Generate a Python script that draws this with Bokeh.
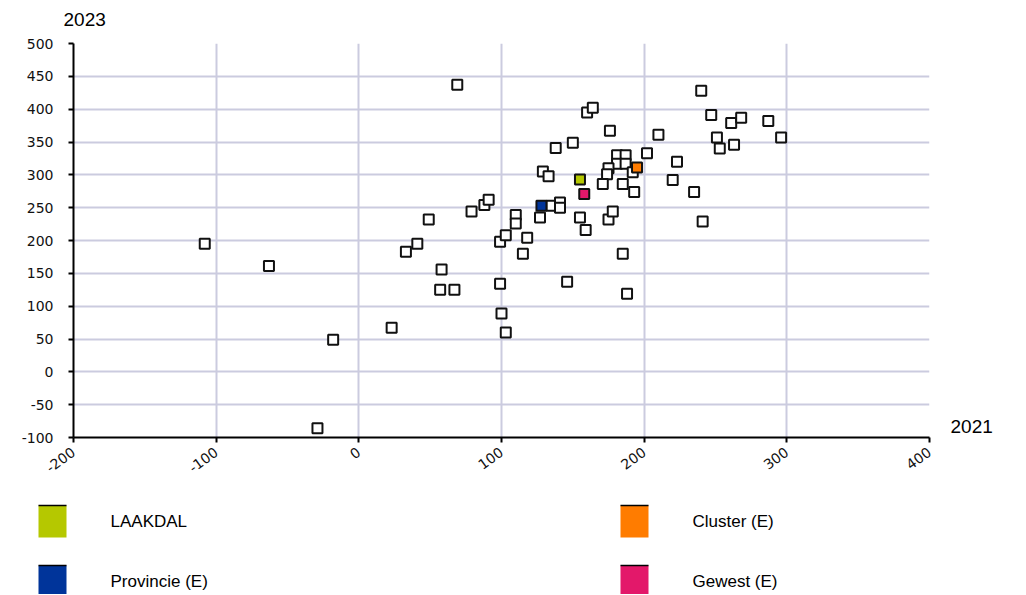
import math
from bokeh.plotting import figure
from bokeh.layouts import column, row
from bokeh.models import Range1d, FixedTicker, ColumnDataSource, CustomJSTickFormatter
from bokeh.core.properties import value
from bokeh.embed import file_html
from bokeh.resources import INLINE

# ---- data: x = 2021, y = 2023 ----
x_2021 = [-108, -63, -18, -29, 23, 69, 33, 41, 49, 58, 57, 67, 79, 88, 91, 99, 103, 99, 100, 103,
          110, 110, 118, 115, 127, 135, 141, 141, 155, 159, 175, 178, 185, 188, 146, 160, 164, 176,
          138, 150, 129, 133, 210, 202, 223, 220, 235, 181, 187, 181, 187, 175, 174, 171, 185, 192,
          193, 240, 247, 261, 268, 287, 296, 251, 253, 263, 241]
y_2023 = [195, 161, 49, -86, 67, 437, 183, 195, 232, 156, 125, 125, 244, 254, 262, 198, 208, 134, 89, 60,
          239, 226, 204, 180, 235, 253, 258, 250, 235, 216, 232, 244, 180, 119, 137, 395, 402, 367,
          341, 349, 305, 298, 361, 333, 320, 292, 274, 330, 330, 317, 317, 310, 301, 286, 286, 304,
          274, 428, 391, 379, 387, 382, 357, 357, 340, 346, 229]

hl_names = ["LAAKDAL", "Provincie (E)", "Cluster (E)", "Gewest (E)"]
hl_x = [155, 128, 195, 158]
hl_y = [293, 253, 311, 271]
hl_colors = ["#b5c800", "#00349a", "#ff7c00", "#e3186a"]

x_ticks = [-200, -100, 0, 100, 200, 300, 400]
y_ticks = [-100, -50, 0, 50, 100, 150, 200, 250, 300, 350, 400, 450, 500]
x_title = "2021"
y_title = "2023"

TICK_FONT = "DejaVu Sans"
TEXT_FONT = "Liberation Sans"


def blank(fig):
    fig.axis.visible = False
    fig.grid.visible = False
    fig.outline_line_color = None
    return fig


# ---- top strip carrying the y title ----
top = blank(figure(width=1020, height=30, output_backend="svg", toolbar_location=None,
                   x_range=Range1d(0, 1020), y_range=Range1d(30, 0),
                   min_border=0, min_border_left=0, min_border_right=0,
                   min_border_top=0, min_border_bottom=0))
top.text(x=[63], y=[19], text=[y_title], text_font=value(TEXT_FONT),
         text_font_size="19px", text_baseline="middle", text_align="left", text_color="black")

# ---- main scatter ----
p = figure(width=940, height=450, output_backend="svg", toolbar_location=None,
           x_range=Range1d(-200, 400), y_range=Range1d(-100, 500),
           min_border_left=73, min_border_right=11, min_border_top=13, min_border_bottom=43)
p.outline_line_color = None
p.background_fill_color = "white"

fmt = CustomJSTickFormatter(code="return String(tick);")
for ax in (p.xaxis[0], p.yaxis[0]):
    ax.axis_line_color = "black"
    ax.axis_line_width = 2
    ax.major_tick_line_color = "black"
    ax.major_tick_line_width = 2
    ax.major_tick_out = 5
    ax.major_tick_in = 0
    ax.minor_tick_line_color = None
    ax.major_label_text_font = TICK_FONT
    ax.major_label_text_font_size = "14px"
    ax.major_label_text_color = "#111111"
    ax.formatter = fmt

p.xaxis.ticker = FixedTicker(ticks=x_ticks)
p.yaxis.ticker = FixedTicker(ticks=y_ticks)
p.xaxis.major_label_orientation = math.pi / 5
p.yaxis.major_label_standoff = 15
p.xaxis.major_label_standoff = 8

p.xgrid.ticker = FixedTicker(ticks=x_ticks)
p.ygrid.ticker = FixedTicker(ticks=y_ticks)
for g in (p.xgrid[0], p.ygrid[0]):
    g.grid_line_color = "#cbcbdf"
    g.grid_line_width = 2

p.scatter(x_2021, y_2023, marker="square", size=10, fill_color="white",
          line_color="#111111", line_width=2)

src_hl = ColumnDataSource(dict(x=hl_x, y=hl_y, c=hl_colors, n=hl_names))
p.scatter("x", "y", source=src_hl, marker="square", size=10, fill_color="c",
          line_color="#111111", line_width=2)

# ---- right strip carrying the x title (its frame aligns with the main frame) ----
side = blank(figure(width=80, height=450, output_backend="svg", toolbar_location=None,
                    x_range=Range1d(0, 80), y_range=Range1d(437, 43),
                    min_border=0, min_border_left=0, min_border_right=0,
                    min_border_top=0, min_border_bottom=0))
side.text(x=[10], y=[426], text=[x_title], text_font=value(TEXT_FONT),
          text_font_size="19px", text_baseline="middle", text_align="left", text_color="black")

# ---- legend ----
lg = blank(figure(width=1020, height=114, output_backend="svg", toolbar_location=None,
                  x_range=Range1d(0, 1020), y_range=Range1d(114, 0),
                  min_border=0, min_border_left=0, min_border_right=0,
                  min_border_top=0, min_border_bottom=0))

lx = [38, 38, 620, 620]
ly = [25, 85, 25, 85]
src_lg = ColumnDataSource(dict(
    left=lx, right=[v + 28 for v in lx], top=ly, bottom=[v + 32 for v in ly],
    c=hl_colors, n=hl_names, tx=[v + 72 for v in lx], ty=[v + 16 for v in ly]))
lg.quad(left="left", right="right", top="top", bottom="bottom", source=src_lg,
        fill_color="c", line_color=None)
lg.segment(x0="left", x1="right", y0="top", y1="top", source=src_lg,
           line_color="black", line_width=1.5)
lg.text(x="tx", y="ty", text="n", source=src_lg, text_font=value(TEXT_FONT),
        text_font_size="17px", text_baseline="middle", text_align="left", text_color="black")

layout = column(top, row(p, side, spacing=0), lg, spacing=0)
open("out.html", "w").write(file_html(layout, INLINE))
